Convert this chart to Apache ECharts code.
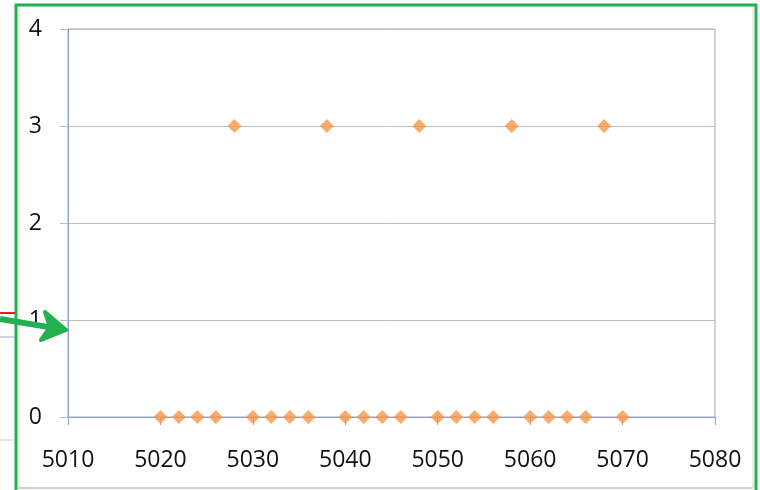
<!DOCTYPE html>
<html><head><meta charset="utf-8">
<script src="https://cdn.jsdelivr.net/npm/echarts@6/dist/echarts.min.js"></script>
<style>html,body{margin:0;padding:0;background:#fff}#c{width:760px;height:490px}</style>
</head><body><div id="c"></div>
<script>
const xValues = [5020,5022,5024,5026,5028,5030,5032,5034,5036,5038,5040,5042,5044,5046,5048,5050,5052,5054,5056,5058,5060,5062,5064,5066,5068,5070];
const yValues = [0,0,0,0,3,0,0,0,0,3,0,0,0,0,3,0,0,0,0,3,0,0,0,0,3,0];
const xTicks = {min:5010, max:5080, interval:10};
const yTicks = {min:0, max:4, interval:1};

const points = xValues.map((x,i)=>[x, yValues[i]]);
const chart = echarts.init(document.getElementById('c'), null, {renderer:'canvas'});
const FONT = 'Open Sans';
const green = '#22b050';
chart.setOption({
  animation:false,
  backgroundColor:'#ffffff',
  grid:{left:68, right:45, top:29, bottom:73, show:true, borderColor:'#9aaac8', borderWidth:1, backgroundColor:'transparent'},
  xAxis:{type:'value', min:xTicks.min, max:xTicks.max, interval:xTicks.interval,
    axisLine:{show:true, onZero:false, lineStyle:{color:'#8fa0c2', width:1}},
    axisTick:{show:true, inside:false, length:8, lineStyle:{color:'#8fa0c2'}},
    splitLine:{show:false},
    axisLabel:{fontFamily:FONT, fontSize:23, color:'#111', margin:32, formatter:v=>String(v)}},
  yAxis:{type:'value', min:yTicks.min, max:yTicks.max, interval:yTicks.interval,
    axisLine:{show:true, onZero:false, lineStyle:{color:'#8fa0c2', width:1}},
    axisTick:{show:true, inside:false, length:8, lineStyle:{color:'#bdbdbd'}},
    splitLine:{show:true, lineStyle:{color:'#bdbdbd', width:1}},
    axisLabel:{fontFamily:FONT, fontSize:23, color:'#111', margin:26, formatter:v=>String(v)}},
  series:[{type:'scatter', data:points, symbol:'diamond', symbolSize:14,
    itemStyle:{color:'#f79646'}, z:5}],
  graphic:[
    {type:'rect', shape:{x:16, y:5, width:740, height:495}, style:{fill:'none', stroke:green, lineWidth:3}, z:100},
    {type:'line', shape:{x1:19, y1:8, x2:19, y2:488}, style:{stroke:'#d8d8d8', lineWidth:1}, z:100},
    {type:'line', shape:{x1:18, y1:488, x2:753, y2:488}, style:{stroke:'#cfcfcf', lineWidth:2}, z:100},
    {type:'line', shape:{x1:753, y1:8, x2:753, y2:488}, style:{stroke:'#d8d8d8', lineWidth:1}, z:100},
    {type:'line', shape:{x1:0, y1:313, x2:15, y2:313}, style:{stroke:'#e02020', lineWidth:2}, z:100},
    {type:'line', shape:{x1:0, y1:337, x2:15, y2:337}, style:{stroke:'#9aaac8', lineWidth:1}, z:100},
    {type:'line', shape:{x1:0, y1:440, x2:15, y2:440}, style:{stroke:'#cccccc', lineWidth:1}, z:100},
    {type:'line', shape:{x1:0, y1:319, x2:58, y2:328.6}, style:{stroke:green, lineWidth:6}, z:101},
    {type:'polygon', shape:{points:[[45,312],[66,330],[41,340],[50,327]]}, style:{fill:green, stroke:green, lineWidth:4, lineJoin:'round'}, z:101}
  ]
});
</script></body></html>
